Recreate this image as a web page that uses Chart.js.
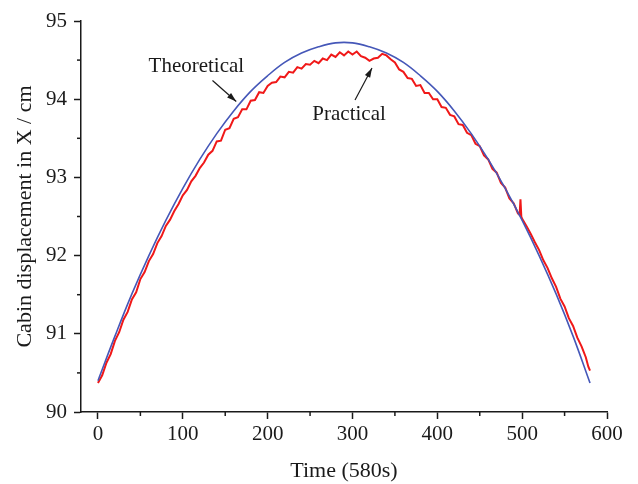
<!DOCTYPE html>
<html>
<head>
<meta charset="utf-8">
<script src="https://cdn.jsdelivr.net/npm/chart.js@4"></script>
<style>
  html, body { margin: 0; padding: 0; background: #fff; }
  #wrap { width: 638px; height: 484px; }
</style>
</head>
<body>
<div id="wrap"><canvas id="chart" width="638" height="484"></canvas></div>
<script>
// theoretical curve (read every 20 s)
const theoTime = [0, 20, 40, 60, 80, 100, 120, 140, 160, 180, 200, 220, 240, 260, 280,
  300, 320, 340, 360, 380, 400, 420, 440, 460, 480, 500, 520, 540, 560, 580];
const theoValue = [90.40, 90.97, 91.51, 92.00, 92.45, 92.86, 93.23, 93.56, 93.85, 94.10,
  94.30, 94.47, 94.59, 94.67, 94.72, 94.72, 94.67, 94.59, 94.47, 94.30,
  94.10, 93.85, 93.56, 93.23, 92.86, 92.45, 92.00, 91.51, 90.97, 90.37];

// measured curve (read every 5 s, plus the spike near 498 s)
const redTime = [0, 5, 10, 15, 20, 25, 30, 35, 40, 45, 50, 55, 60, 65, 70, 75, 80, 85, 90, 95,
  100, 105, 110, 115, 120, 125, 130, 135, 140, 145, 150, 155, 160, 165, 170, 175, 180, 185, 190, 195,
  200, 205, 210, 215, 220, 225, 230, 235, 240, 245, 250, 255, 260, 265, 270, 275, 280, 285, 290, 295,
  300, 305, 310, 315, 320, 325, 330, 335, 340, 345, 350, 355, 360, 365, 370, 375, 380, 385, 390, 395,
  400, 405, 410, 415, 420, 425, 430, 435, 440, 445, 450, 455, 460, 465, 470, 475, 480, 485, 490, 495,
  497, 498, 499, 500, 505, 510, 515, 520, 525, 530, 535, 540, 545, 550, 555, 560, 565, 570, 575, 578, 580];
const redValue = [90.37, 90.47, 90.63, 90.74, 90.91, 91.02, 91.18, 91.28, 91.44, 91.53,
  91.70, 91.79, 91.93, 92.02, 92.16, 92.25, 92.38, 92.46, 92.57, 92.66,
  92.77, 92.84, 92.95, 93.02, 93.12, 93.19, 93.29, 93.34, 93.46, 93.47,
  93.61, 93.63, 93.75, 93.77, 93.87, 93.87, 93.98, 93.99, 94.09, 94.08,
  94.17, 94.21, 94.22, 94.29, 94.28, 94.35, 94.34, 94.41, 94.39, 94.45,
  94.44, 94.49, 94.46, 94.52, 94.50, 94.57, 94.54, 94.60, 94.56, 94.61,
  94.57, 94.61, 94.55, 94.53, 94.49, 94.52, 94.53, 94.58, 94.56, 94.51,
  94.47, 94.38, 94.35, 94.27, 94.26, 94.17, 94.18, 94.08, 94.08, 94.00,
  94.00, 93.90, 93.89, 93.80, 93.78, 93.68, 93.67, 93.57, 93.54, 93.43,
  93.40, 93.28, 93.23, 93.11, 93.06, 92.93, 92.87, 92.73, 92.67, 92.54,
  92.52, 92.72, 92.50, 92.47, 92.38, 92.28, 92.17, 92.07, 91.94, 91.84,
  91.71, 91.60, 91.45, 91.35, 91.20, 91.10, 90.95, 90.84, 90.70, 90.58, 90.53];

// tick labels
const xTicks = [0, 100, 200, 300, 400, 500, 600];
const xMinorTicks = [50, 150, 250, 350, 450, 550];
const yTicks = [90, 91, 92, 93, 94, 95];
const yMinorTicks = [90.5, 91.5, 92.5, 93.5, 94.5];

// annotations, in data units
const labels = [
  { text: "Theoretical", x: 116, y: 94.42, from: [135, 94.24], to: [163, 93.97] },
  { text: "Practical", x: 296, y: 93.81, from: [303, 93.99], to: [323, 94.40] },
];

const serif = "'Liberation Serif', 'Times New Roman', serif";
const ink = "#1a1a1a";

const extras = {
  id: "extras",
  afterDraw(chart) {
    const c = chart.ctx;
    const xs = chart.scales.x, ys = chart.scales.y;
    c.save();
    c.strokeStyle = ink;
    c.lineWidth = 1.5;
    // minor ticks
    xMinorTicks.forEach((v) => {
      const px = xs.getPixelForValue(v);
      c.beginPath();
      c.moveTo(px, ys.bottom);
      c.lineTo(px, ys.bottom + 4);
      c.stroke();
    });
    yMinorTicks.forEach((v) => {
      const py = ys.getPixelForValue(v);
      c.beginPath();
      c.moveTo(xs.left - 4, py);
      c.lineTo(xs.left, py);
      c.stroke();
    });
    // labels + arrows
    c.font = "21px " + serif;
    c.fillStyle = ink;
    c.textAlign = "center";
    c.textBaseline = "middle";
    labels.forEach((l) => {
      c.fillText(l.text, xs.getPixelForValue(l.x), ys.getPixelForValue(l.y));
      const x1 = xs.getPixelForValue(l.from[0]), y1 = ys.getPixelForValue(l.from[1]);
      const x2 = xs.getPixelForValue(l.to[0]), y2 = ys.getPixelForValue(l.to[1]);
      c.lineWidth = 1.2;
      c.beginPath();
      c.moveTo(x1, y1);
      c.lineTo(x2, y2);
      c.stroke();
      const a = Math.atan2(y2 - y1, x2 - x1);
      c.beginPath();
      c.moveTo(x2, y2);
      c.lineTo(x2 - 10 * Math.cos(a - 0.3), y2 - 10 * Math.sin(a - 0.3));
      c.lineTo(x2 - 10 * Math.cos(a + 0.3), y2 - 10 * Math.sin(a + 0.3));
      c.closePath();
      c.fill();
    });
    c.restore();
  },
};

new Chart(document.getElementById("chart"), {
  type: "line",
  data: {
    datasets: [
      {
        label: "Theoretical",
        data: theoTime.map((t, i) => ({ x: t, y: theoValue[i] })),
        borderColor: "#4557b8",
        borderWidth: 1.6,
        pointRadius: 0,
        tension: 0.4,
      },
      {
        label: "Practical",
        data: redTime.map((t, i) => ({ x: t, y: redValue[i] })),
        borderColor: "#f01818",
        borderWidth: 2,
        pointRadius: 0,
        tension: 0,
      },
    ],
  },
  options: {
    responsive: false,
    animation: false,
    layout: { padding: { top: 21, right: 31, left: 0, bottom: 0 } },
    plugins: { legend: { display: false }, tooltip: { enabled: false } },
    scales: {
      x: {
        type: "linear",
        min: -20,
        max: 600,
        afterBuildTicks: (s) => { s.ticks = xTicks.map((v) => ({ value: v })); },
        afterFit: (s) => { s.height = 72; },
        border: { display: true, color: ink, width: 1.5 },
        grid: { drawOnChartArea: false, tickLength: 7, tickColor: ink, tickWidth: 1.5 },
        ticks: { color: ink, font: { family: serif, size: 21 }, padding: 3, maxRotation: 0 },
        title: { display: true, text: "Time (580s)", color: ink, font: { family: serif, size: 22 }, padding: 0 },
      },
      y: {
        min: 90,
        max: 95,
        afterBuildTicks: (s) => { s.ticks = yTicks.map((v) => ({ value: v })); },
        afterFit: (s) => { s.width = 81; },
        border: { display: true, color: ink, width: 1.5 },
        grid: { drawOnChartArea: false, tickLength: 7, tickColor: ink, tickWidth: 1.5 },
        ticks: { color: ink, font: { family: serif, size: 21 }, padding: 7 },
        title: { display: true, text: "Cabin displacement in X / cm", color: ink, font: { family: serif, size: 22 }, padding: { top: 12 } },
      },
    },
  },
  plugins: [extras],
});
</script>
</body>
</html>
